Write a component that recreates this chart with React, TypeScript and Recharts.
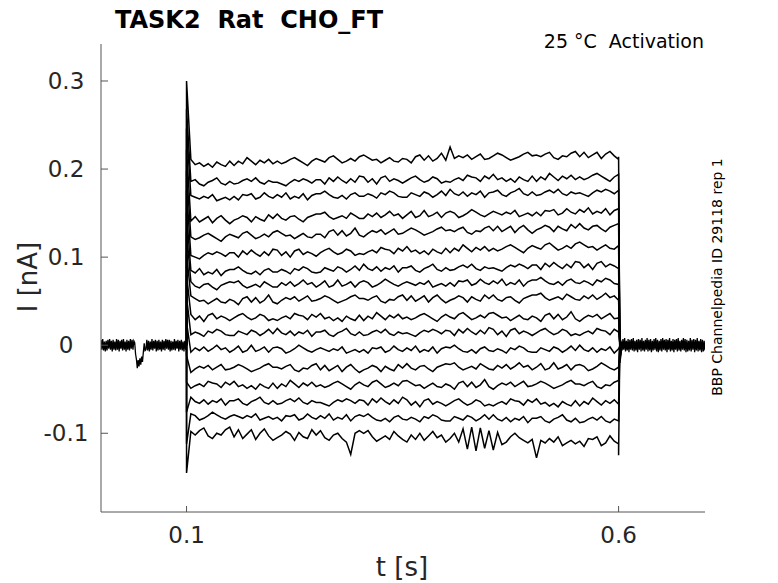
import { LineChart, Line, XAxis, YAxis } from "recharts";

// current traces in pA, sampled every 5 ms from 0.105 s to 0.600 s
const TRACE_01 = [
  211, 205, 207, 203, 206, 202, 208, 205, 203, 209,
  204, 209, 206, 213, 209, 205, 210, 207, 211, 206,
  209, 206, 208, 211, 213, 210, 207, 204, 209, 212,
  210, 208, 213, 215, 211, 207, 209, 212, 209, 214,
  216, 213, 210, 211, 207, 210, 213, 209, 208, 212,
  211, 207, 214, 216, 210, 215, 209, 212, 218, 210,
  225, 212, 215, 213, 216, 211, 214, 217, 211, 212,
  215, 218, 216, 213, 210, 212, 214, 217, 219, 215,
  216, 214, 217, 219, 213, 211, 215, 214, 218, 220,
  214, 219, 213, 216, 219, 212, 217, 220, 215, 211,
];
const TRACE_02 = [
  186, 188, 183, 181, 185, 187, 190, 184, 182, 186,
  183, 184, 187, 189, 186, 190, 185, 183, 187, 185,
  185, 183, 181, 185, 188, 186, 189, 187, 184, 188,
  188, 183, 190, 186, 191, 187, 184, 189, 185, 192,
  191, 185, 189, 183, 190, 192, 186, 189, 187, 184,
  187, 190, 192, 188, 185, 187, 191, 189, 184, 186,
  185, 188, 190, 187, 193, 191, 190, 186, 192, 189,
  194, 188, 190, 186, 189, 185, 191, 188, 186, 192,
  186, 191, 188, 195, 191, 187, 192, 189, 193, 188,
  191, 188, 190, 193, 195, 192, 189, 186, 191, 194,
];
const TRACE_03 = [
  170, 168, 166, 169, 167, 171, 164, 166, 168, 165,
  169, 165, 171, 170, 172, 166, 168, 173, 169, 167,
  171, 168, 173, 166, 169, 167, 172, 165, 170, 172,
  172, 175, 171, 168, 167, 170, 166, 171, 173, 169,
  169, 172, 170, 167, 173, 171, 175, 173, 169, 168,
  168, 173, 171, 169, 174, 172, 168, 171, 175, 170,
  177, 172, 170, 174, 169, 173, 171, 175, 168, 173,
  174, 176, 171, 169, 173, 175, 178, 172, 170, 174,
  170, 171, 174, 176, 173, 177, 172, 170, 174, 172,
  173, 171, 169, 173, 176, 174, 177, 175, 172, 176,
];
const TRACE_04 = [
  141, 146, 140, 143, 146, 139, 144, 147, 142, 138,
  142, 144, 147, 145, 140, 146, 143, 141, 148, 144,
  149, 144, 142, 146, 147, 143, 140, 145, 147, 149,
  149, 151, 146, 143, 145, 147, 144, 150, 147, 144,
  144, 149, 146, 150, 145, 148, 152, 147, 149, 144,
  148, 152, 145, 147, 153, 146, 148, 151, 145, 150,
  152, 150, 145, 147, 150, 154, 151, 148, 146, 149,
  152, 150, 148, 151, 149, 153, 146, 148, 150, 147,
  151, 147, 153, 152, 154, 148, 150, 155, 151, 149,
  154, 151, 156, 149, 152, 150, 155, 148, 153, 155,
];
const TRACE_05 = [
  123, 120, 122, 125, 127, 124, 121, 118, 123, 126,
  124, 122, 127, 129, 125, 121, 123, 126, 123, 128,
  130, 127, 124, 125, 121, 124, 127, 123, 122, 126,
  126, 122, 129, 131, 125, 130, 124, 127, 133, 125,
  123, 127, 130, 128, 131, 126, 129, 132, 126, 127,
  130, 133, 131, 128, 125, 127, 129, 132, 134, 130,
  131, 129, 132, 134, 128, 126, 130, 129, 133, 135,
  130, 135, 129, 132, 135, 128, 133, 136, 131, 127,
  131, 133, 136, 134, 129, 135, 132, 130, 137, 133,
  138, 133, 131, 135, 136, 132, 129, 134, 136, 138,
];
const TRACE_06 = [
  102, 100, 98, 102, 105, 103, 106, 104, 101, 105,
  105, 100, 107, 103, 108, 104, 101, 106, 102, 109,
  108, 102, 106, 100, 107, 109, 103, 106, 104, 101,
  105, 108, 110, 106, 103, 105, 109, 107, 102, 104,
  103, 106, 108, 105, 111, 109, 108, 104, 110, 107,
  112, 106, 108, 104, 107, 103, 109, 106, 104, 110,
  105, 110, 107, 114, 110, 106, 111, 108, 112, 107,
  110, 107, 109, 112, 114, 111, 108, 105, 110, 113,
  111, 109, 114, 116, 112, 108, 110, 113, 110, 115,
  117, 114, 111, 112, 108, 111, 114, 110, 109, 113,
];
const TRACE_07 = [
  85, 82, 87, 80, 83, 81, 86, 79, 84, 86,
  86, 89, 85, 82, 81, 84, 80, 85, 87, 83,
  83, 86, 84, 81, 87, 85, 89, 87, 83, 82,
  83, 88, 86, 84, 89, 87, 83, 86, 90, 85,
  92, 87, 85, 89, 84, 88, 86, 90, 83, 88,
  88, 90, 85, 83, 87, 89, 92, 86, 84, 88,
  85, 86, 89, 91, 88, 92, 87, 85, 89, 87,
  88, 86, 84, 88, 91, 89, 92, 90, 87, 91,
  91, 86, 93, 89, 94, 90, 87, 92, 88, 95,
  94, 88, 92, 86, 93, 95, 89, 92, 90, 87,
];
const TRACE_08 = [
  72, 67, 65, 69, 70, 66, 63, 68, 70, 72,
  71, 73, 68, 65, 67, 69, 66, 72, 69, 66,
  66, 71, 68, 72, 67, 70, 74, 69, 71, 66,
  69, 73, 66, 68, 74, 67, 69, 72, 66, 71,
  73, 71, 66, 68, 71, 75, 72, 69, 67, 70,
  72, 70, 68, 71, 69, 73, 66, 68, 70, 67,
  71, 67, 73, 72, 74, 68, 70, 75, 71, 69,
  73, 70, 75, 68, 71, 69, 74, 67, 72, 74,
  74, 77, 73, 70, 69, 72, 68, 73, 75, 71,
  70, 73, 71, 68, 74, 72, 76, 74, 70, 69,
];
const TRACE_09 = [
  56, 53, 50, 51, 47, 50, 53, 49, 48, 52,
  50, 46, 53, 55, 49, 54, 48, 51, 57, 49,
  47, 51, 54, 52, 55, 50, 53, 56, 50, 51,
  53, 56, 54, 51, 48, 50, 52, 55, 57, 53,
  53, 51, 54, 56, 50, 48, 52, 51, 55, 57,
  51, 56, 50, 53, 56, 49, 54, 57, 52, 48,
  51, 53, 56, 54, 49, 55, 52, 50, 57, 53,
  57, 52, 50, 54, 55, 51, 48, 53, 55, 57,
  57, 59, 54, 51, 53, 55, 52, 58, 55, 52,
  51, 56, 53, 57, 52, 55, 59, 54, 56, 51,
];
const TRACE_10 = [
  35, 29, 33, 27, 34, 36, 30, 33, 31, 28,
  31, 34, 36, 32, 29, 31, 35, 33, 28, 30,
  28, 31, 33, 30, 36, 34, 33, 29, 35, 32,
  36, 30, 32, 28, 31, 27, 33, 30, 28, 34,
  28, 33, 30, 37, 33, 29, 34, 31, 35, 30,
  32, 29, 31, 34, 36, 33, 30, 27, 32, 35,
  32, 30, 35, 37, 33, 29, 31, 34, 31, 36,
  37, 34, 31, 32, 28, 31, 34, 30, 29, 33,
  31, 27, 34, 36, 30, 35, 29, 32, 38, 30,
  27, 31, 34, 32, 35, 30, 33, 36, 30, 31,
];
const TRACE_11 = [
  12, 15, 13, 10, 16, 14, 18, 16, 12, 11,
  11, 16, 14, 12, 17, 15, 11, 14, 18, 13,
  19, 14, 12, 16, 11, 15, 13, 17, 10, 15,
  15, 17, 12, 10, 14, 16, 19, 13, 11, 15,
  11, 12, 15, 17, 14, 18, 13, 11, 15, 13,
  14, 12, 10, 14, 17, 15, 18, 16, 13, 17,
  16, 11, 18, 14, 19, 15, 12, 17, 13, 20,
  18, 12, 16, 10, 17, 19, 13, 16, 14, 11,
  14, 17, 19, 15, 12, 14, 18, 16, 11, 13,
  11, 14, 16, 13, 19, 17, 16, 12, 18, 15,
];
const TRACE_12 = [
  -8, -3, -6, -2, -7, -4, 0, -5, -3, -8,
  -5, -1, -8, -6, 0, -7, -5, -2, -8, -3,
  -2, -4, -9, -7, -4, 0, -3, -6, -8, -5,
  -3, -5, -7, -4, -6, -2, -9, -7, -5, -8,
  -5, -9, -3, -4, -2, -8, -6, -1, -5, -7,
  -3, -6, -1, -8, -5, -7, -2, -9, -4, -2,
  -3, 0, -4, -7, -8, -5, -9, -4, -2, -6,
  -7, -4, -6, -9, -3, -5, -1, -3, -7, -8,
  -8, -3, -5, -7, -2, -4, -8, -5, -1, -6,
  0, -5, -7, -3, -8, -4, -6, -2, -9, -4,
];
const TRACE_13 = [
  -31, -27, -24, -26, -23, -28, -25, -22, -28, -27,
  -25, -22, -24, -27, -30, -28, -26, -23, -21, -25,
  -25, -27, -24, -22, -28, -30, -26, -27, -23, -21,
  -28, -23, -29, -26, -23, -30, -25, -22, -27, -31,
  -28, -26, -23, -25, -30, -24, -27, -29, -22, -26,
  -21, -26, -28, -24, -23, -27, -30, -25, -23, -21,
  -22, -20, -25, -28, -26, -24, -27, -21, -24, -27,
  -28, -23, -26, -22, -27, -24, -20, -25, -23, -28,
  -25, -21, -28, -26, -20, -27, -25, -22, -28, -23,
  -22, -24, -29, -27, -24, -20, -23, -26, -28, -25,
];
const TRACE_14 = [
  -49, -46, -44, -47, -41, -43, -44, -48, -42, -45,
  -41, -47, -45, -49, -46, -50, -44, -47, -49, -43,
  -49, -44, -47, -40, -44, -48, -43, -46, -42, -47,
  -45, -48, -46, -43, -41, -44, -47, -50, -45, -42,
  -45, -47, -42, -40, -44, -48, -46, -43, -46, -41,
  -40, -43, -46, -45, -49, -46, -43, -47, -48, -44,
  -46, -50, -43, -41, -47, -42, -48, -45, -39, -47,
  -50, -46, -43, -45, -42, -47, -44, -41, -47, -46,
  -44, -41, -43, -46, -49, -47, -45, -42, -40, -44,
  -44, -46, -43, -41, -47, -49, -45, -46, -42, -40,
];
const TRACE_15 = [
  -59, -64, -66, -62, -67, -63, -65, -61, -68, -63,
  -63, -61, -66, -68, -64, -62, -59, -65, -67, -63,
  -67, -66, -63, -61, -64, -60, -65, -67, -63, -65,
  -65, -67, -69, -65, -62, -64, -61, -63, -66, -62,
  -63, -68, -61, -65, -60, -64, -67, -62, -66, -59,
  -62, -68, -64, -70, -63, -61, -67, -64, -66, -69,
  -66, -63, -61, -65, -68, -66, -62, -64, -69, -67,
  -69, -66, -64, -67, -61, -63, -64, -68, -62, -65,
  -61, -67, -65, -69, -66, -70, -64, -67, -69, -63,
  -69, -64, -67, -60, -64, -68, -63, -66, -62, -67,
];
const TRACE_16 = [
  -78, -80, -85, -83, -80, -76, -79, -82, -84, -81,
  -79, -81, -83, -80, -82, -78, -85, -83, -81, -84,
  -82, -86, -80, -81, -79, -85, -83, -78, -82, -84,
  -80, -83, -78, -85, -82, -84, -79, -86, -81, -79,
  -81, -78, -82, -85, -86, -83, -87, -82, -80, -84,
  -85, -82, -84, -87, -81, -83, -79, -81, -85, -86,
  -86, -81, -83, -85, -80, -82, -86, -83, -79, -84,
  -79, -84, -86, -82, -87, -83, -85, -81, -88, -83,
  -83, -81, -86, -88, -84, -82, -79, -85, -87, -83,
  -88, -87, -84, -82, -85, -81, -86, -88, -84, -86,
];
const TRACE_17 = [
  -98, -102, -97, -94, -103, -106, -100, -102, -96, -93,
  -104, -96, -106, -101, -96, -107, -100, -95, -103, -108,
  -105, -102, -98, -101, -108, -99, -104, -106, -96, -102,
  -97, -105, -108, -102, -100, -106, -110, -124, -100, -97,
  -100, -97, -104, -109, -106, -103, -107, -98, -103, -107,
  -110, -102, -107, -100, -108, -103, -98, -105, -102, -110,
  -106, -100, -110, -95, -118, -93, -120, -94, -117, -97,
  -119, -99, -113, -110, -104, -100, -105, -108, -111, -107,
  -128, -108, -111, -106, -110, -104, -114, -111, -108, -112,
  -109, -115, -106, -107, -104, -114, -111, -103, -109, -112,
];

const TRACES = [
  TRACE_01, TRACE_02, TRACE_03, TRACE_04, TRACE_05, TRACE_06,
  TRACE_07, TRACE_08, TRACE_09, TRACE_10, TRACE_11, TRACE_12,
  TRACE_13, TRACE_14, TRACE_15, TRACE_16, TRACE_17,
];

// capacitive peak at step onset (t = 0.1 s), pA
const ON_PEAK = [300, 268, 246, 222, 198, 176, 150, 128, 104, 80, 55, 26, -12, -42, -76, -112, -145];
// value at step offset and the short tail after it (t = 0.6 s), pA
const OFF_PEAK = [214, 194, 176, 155, 138, 113, 87, 69, 51, 31, 15, -4, -25, -40, -67, -86, -125];
const OFF_TAIL = [-20, -16, -14, -11, -9, -12, -6, -8, -3, -5, 2, -1, 5, 3, 8, 4, 6];

// holding baseline before the step, every 1 ms from 0.001 s, pA
const PRE_BASE = [
  6, -5, 7, -6, 4, -7, 5, -6, 6, -4, 7, -5, 5, -7, 6, -5, 4, -6, 7, -5,
  6, -7, 5, -4, 6, -6, 7, -5, 4, -7, 6, -5, 5, -6, 7, -4, 6, -5, 5,
  3, -10, -16, -26, -17, -24, -15, -22, -13, -19, -8, 2, -6,
  -5, 6, -6, 5, -7, 4, -5, 7, -6, 5, -4, 6, -7, 5, -6, 6, -5, 4, -7, 6,
  -5, 5, -6, 7, -4, 6, -5, 6, -7, 5, -6, 4, -5, 7, -6, 5, -4, 6, -7, 5,
  -5, 6, -6, 4, -7, 5, -5, 0,
];
// baseline after the step, every 1 ms from 0.604 s, pA
const POST_BASE = [
  -6, 7, -5, 8, -7, 5, -6, 7, -8, 6,
  -5, 7, -6, 8, -7, 5, -6, 6, -8, 7,
  -5, 6, -7, 8, -6, 5, -7, 6, -5, 8,
  -7, 6, -6, 7, -8, 5, -6, 7, -5, 8,
  -7, 6, -8, 5, -6, 7, -7, 8, -5, 6,
  -6, 7, -8, 6, -5, 8, -7, 5, -6, 7,
  -8, 6, -5, 7, -7, 8, -6, 5, -7, 6,
  -5, 8, -6, 7, -8, 6, -7, 5, -6, 8,
  -7, 6, -5, 7, -8, 6, -6, 8, -7, 5,
  -6, 7, -8, 6, -7, 5, -6,
];

const X_TICKS = [0.1, 0.6];
const Y_TICKS = [-0.1, 0, 0.1, 0.2, 0.3];

const TEXT = "#262626";
const AXIS = "#555555";
const FONT = "DejaVu Sans";

const preData = PRE_BASE.map((v, j) => ({ t: 0.001 * (j + 1), v: v / 1000 }));
const postData = POST_BASE.map((v, j) => ({ t: 0.604 + 0.001 * j, v: v / 1000 }));

const traceData = TRACES.map((tr, k) => [
  { t: 0.1, v: 0 },
  { t: 0.1, v: ON_PEAK[k] / 1000 },
  ...tr.map((v, i) => ({ t: 0.1 + 0.005 * (i + 1), v: v / 1000 })),
  { t: 0.6, v: OFF_PEAK[k] / 1000 },
  { t: 0.6015, v: OFF_TAIL[k] / 1000 },
  { t: 0.604, v: 0 },
]);

function YTick({ x, y, payload }: any) {
  return (
    <g>
      <line x1={x} x2={x + 7} y1={y} y2={y} stroke={AXIS} />
      <text x={x - 35} y={y + 8} textAnchor="middle" fill={TEXT} fontSize={23} fontFamily={FONT}>
        {payload.value === 0 ? "0" : String(payload.value)}
      </text>
    </g>
  );
}

function XTick({ x, y, payload }: any) {
  return (
    <g>
      <line x1={x} x2={x} y1={y} y2={y - 6} stroke={AXIS} />
      <text x={x} y={y + 31} textAnchor="middle" fill={TEXT} fontSize={23} fontFamily={FONT}>
        {String(payload.value)}
      </text>
    </g>
  );
}

export default function App() {
  return (
    <div style={{ position: "relative", width: 770, height: 575 }}>
      <LineChart width={770} height={575} margin={{ top: 36, right: 73, bottom: 31, left: 33 }}>
        <XAxis
          type="number"
          dataKey="t"
          domain={[0.001, 0.7]}
          ticks={X_TICKS}
          allowDataOverflow
          tickSize={0}
          tickMargin={0}
          tick={XTick}
          axisLine={{ stroke: AXIS }}
          height={40}
        />
        <YAxis
          type="number"
          dataKey="v"
          domain={[-0.1894, 0.342]}
          ticks={Y_TICKS}
          allowDataOverflow
          tickSize={0}
          tickMargin={0}
          tick={YTick}
          axisLine={{ stroke: AXIS }}
          width={60}
        />
        <Line data={preData} dataKey="v" stroke="#000" strokeWidth={1.3} dot={false} isAnimationActive={false} />
        <Line data={postData} dataKey="v" stroke="#000" strokeWidth={1.3} dot={false} isAnimationActive={false} />
        {traceData.map((d, k) => (
          <Line
            key={k}
            data={d}
            dataKey="v"
            stroke="#000"
            strokeWidth={1.5}
            dot={false}
            isAnimationActive={false}
          />
        ))}
      </LineChart>
      {/* text layer in page coordinates */}
      <svg
        width={778}
        height={583}
        style={{ position: "absolute", left: -8, top: -8, pointerEvents: "none" }}
      >
        <text x={115} y={28} fill="#000" fontSize={24} fontWeight="bold" fontFamily={FONT} xmlSpace="preserve">
          TASK2  Rat  CHO_FT
        </text>
        <text x={704} y={48} textAnchor="end" fill="#000" fontSize={19} fontFamily={FONT} xmlSpace="preserve">
          25 °C  Activation
        </text>
        <text
          x={28}
          y={277}
          transform="rotate(-90 28 277)"
          textAnchor="middle"
          dominantBaseline="central"
          fill={TEXT}
          fontSize={26}
          fontFamily={FONT}
        >
          I [nA]
        </text>
        <text x={402} y={576} textAnchor="middle" fill={TEXT} fontSize={26} fontFamily={FONT}>
          t [s]
        </text>
        <text
          x={717}
          y={277}
          transform="rotate(-90 717 277)"
          textAnchor="middle"
          dominantBaseline="central"
          fill="#000"
          fontSize={14}
          fontFamily={FONT}
        >
          BBP Channelpedia ID 29118 rep 1
        </text>
      </svg>
    </div>
  );
}
